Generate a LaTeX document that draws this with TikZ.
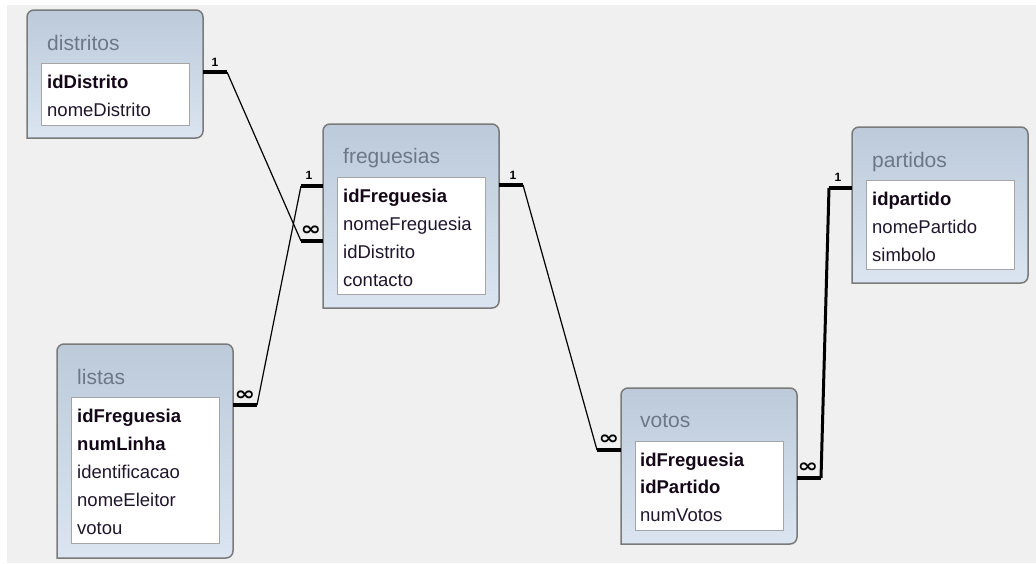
\documentclass[tikz,border=0pt]{standalone}
\usepackage{fontspec}
\setmainfont{Liberation Sans}
\newfontfamily\symfont{DejaVu Sans}
\definecolor{bgcol}{RGB}{240,240,240}
\definecolor{boxtop}{RGB}{188,202,218}
\definecolor{boxbot}{RGB}{219,229,241}
\definecolor{bordercol}{RGB}{122,122,122}
\definecolor{innerborder}{RGB}{165,165,165}
\definecolor{titlecol}{RGB}{108,120,136}
\definecolor{fieldcol}{RGB}{32,22,44}
\definecolor{keycol}{RGB}{20,8,24}
\newcommand\tblshape[1]{%
  \path[tblfill] (#1.south west) [rounded corners=7pt] -- (#1.north west) -- (#1.north east) -- (#1.south east) [sharp corners] -- cycle;}
\newcommand\manysym{\scalebox{1.3}[1]{∞}}
\tikzset{
  tbl/.style={rectangle, minimum width=176pt, inner sep=0pt, outer sep=0pt},
  tblfill/.style={top color=boxtop, bottom color=boxbot, draw=bordercol, line width=1.5pt},
  innerbox/.style={rectangle, fill=white, draw=innerborder, line width=1pt, minimum width=148pt, inner sep=0pt, outer sep=0pt},
  ttl/.style={anchor=base west, inner sep=0pt, text=titlecol, font=\fontsize{21}{24}\selectfont},
  fld/.style={anchor=base west, inner sep=0pt, text=fieldcol, font=\fontsize{18.5}{21}\selectfont},
  keyfld/.style={anchor=base west, inner sep=0pt, text=keycol, font=\fontsize{18.5}{21}\selectfont\bfseries},
  stub/.style={line width=4pt, line cap=butt},
  rel/.style={line width=1.2pt, line join=round},
  relthick/.style={line width=3pt, line join=round},
  one/.style={inner sep=0pt, font=\fontsize{12}{14}\selectfont\bfseries},
  many/.style={inner sep=0pt, font=\symfont\fontsize{19}{20}\selectfont\bfseries},
}
\begin{document}
\begin{tikzpicture}[x=1pt, y=-1pt]
\useasboundingbox (0,0) rectangle (1036,563);
\fill[white] (0,0) rectangle (1036,563);
\fill[bgcol] (7,5) rectangle (1036,563);

% ---------- tables ----------
\node[tbl, minimum height=128pt] (distritos) at (115,74) {};
\node[tbl, minimum height=184pt] (freguesias) at (411,216) {};
\node[tbl, minimum height=156pt] (partidos) at (940,205) {};
\node[tbl, minimum height=214pt] (listas) at (145,451) {};
\node[tbl, minimum height=156pt] (votos) at (709,466) {};
\tblshape{distritos}
\tblshape{freguesias}
\tblshape{partidos}
\tblshape{listas}
\tblshape{votos}

\node[innerbox, minimum height=62pt] (distritosIn) at (115,94) {};
\node[innerbox, minimum height=117pt] (freguesiasIn) at (411,235.5) {};
\node[innerbox, minimum height=89pt] (partidosIn) at (940,224.5) {};
\node[innerbox, minimum height=146pt] (listasIn) at (145,470) {};
\node[innerbox, minimum height=89pt] (votosIn) at (709,485.5) {};

% distritos
\node[ttl] (tDis) at (47,50) {distritos};
\node[keyfld] (fDis1) at (47,88) {idDistrito};
\node[fld] (fDis2) at (47,116) {nomeDistrito};
% freguesias
\node[ttl] (tFre) at (343,163) {freguesias};
\node[keyfld] (fFre1) at (343,202) {idFreguesia};
\node[fld] (fFre2) at (343,230) {nomeFreguesia};
\node[fld] (fFre3) at (343,258) {idDistrito};
\node[fld] (fFre4) at (343,286) {contacto};
% partidos
\node[ttl] (tPar) at (872,167) {partidos};
\node[keyfld] (fPar1) at (872,205) {idpartido};
\node[fld] (fPar2) at (872,233) {nomePartido};
\node[fld] (fPar3) at (872,261) {simbolo};
% listas
\node[ttl] (tLis) at (77,384) {listas};
\node[keyfld] (fLis1) at (77,422) {idFreguesia};
\node[keyfld] (fLis2) at (77,450) {numLinha};
\node[fld] (fLis3) at (77,478) {identificacao};
\node[fld] (fLis4) at (77,506) {nomeEleitor};
\node[fld] (fLis5) at (77,534) {votou};
% votos
\node[ttl] (tVot) at (640,427) {votos};
\node[keyfld] (fVot1) at (640,466) {idFreguesia};
\node[keyfld] (fVot2) at (640,493) {idPartido};
\node[fld] (fVot3) at (640,521) {numVotos};

% ---------- relationship end points ----------
\coordinate (dOne) at (227,72);
\coordinate (fMany) at (301,241);
\coordinate (fOne) at (301,186);
\coordinate (lMany) at (257,405);
\coordinate (frOne) at (523,185);
\coordinate (vMany) at (597,450);
\coordinate (vrMany) at (821,478);
\coordinate (pOne) at (829,188);

% distritos 1 -- oo freguesias
\draw[stub] (distritos.east |- dOne) -- (dOne);
\draw[stub] (freguesias.west |- fMany) -- (fMany);
\draw[rel] (dOne) -- (fMany);
\node[one] (cDis) at (215,62) {1};
\node[many] (cFreM) at (311,231) {\manysym};

% freguesias 1 -- oo listas
\draw[stub] (freguesias.west |- fOne) -- (fOne);
\draw[stub] (listas.east |- lMany) -- (lMany);
\draw[rel] (fOne) -- (lMany);
\node[one] (cFreL) at (309,175) {1};
\node[many] (cLis) at (245,396) {\manysym};

% freguesias 1 -- oo votos
\draw[stub] (freguesias.east |- frOne) -- (frOne);
\draw[stub] (votos.west |- vMany) -- (vMany);
\draw[rel] (frOne) -- (vMany);
\node[one] (cFreR) at (513,175) {1};
\node[many] (cVotL) at (609,440) {\manysym};

% partidos 1 -- oo votos
\draw[stub] (votos.east |- vrMany) -- (vrMany);
\draw[stub] (partidos.west |- pOne) -- (pOne);
\draw[relthick] (vrMany) -- (pOne);
\node[one] (cPar) at (838,177) {1};
\node[many] (cVotR) at (808,468) {\manysym};
\end{tikzpicture}
\end{document}
